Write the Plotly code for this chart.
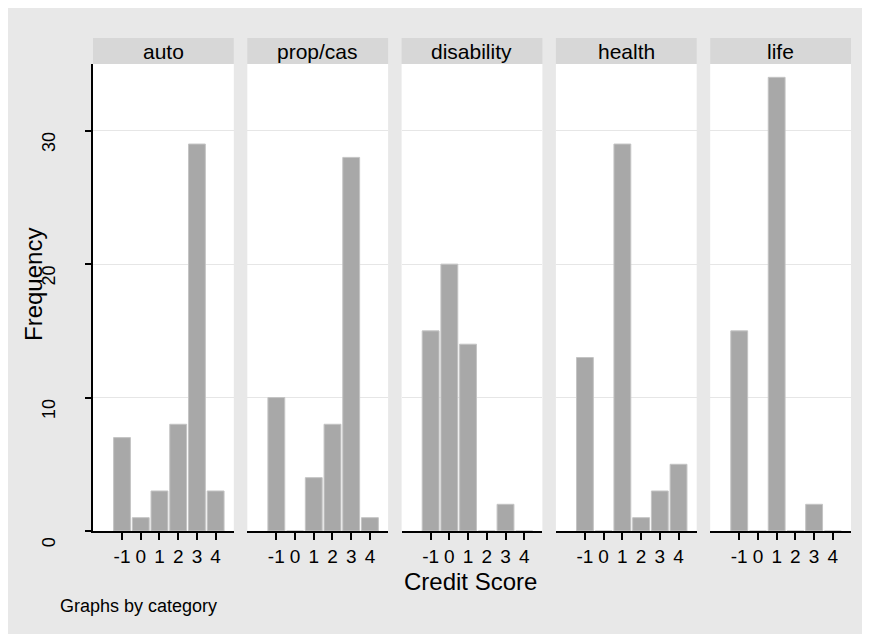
import plotly.graph_objects as go
from plotly.subplots import make_subplots

# credit score bins and frequencies per category
scores = [-1, 0, 1, 2, 3, 4]
categories = ["auto", "prop/cas", "disability", "health", "life"]
auto = [7, 1, 3, 8, 29, 3]
prop_cas = [10, 0, 4, 8, 28, 1]
disability = [15, 20, 14, 0, 2, 0]
health = [13, 0, 29, 1, 3, 5]
life = [15, 0, 34, 0, 2, 0]
y_ticks = [0, 10, 20, 30]

counts = [auto, prop_cas, disability, health, life]

FONT = "Liberation Sans, Arial, Helvetica, sans-serif"
PAPER = "#E8E8E8"
STRIP = "#D7D7D7"

# page has an 8px body margin; plot area in figure pixels: x 85..843, y 56..523
W, H = 870, 634
L, R, T, B = 85, 27, 56, 111
pw, ph = W - L - R, H - T - B


def px_x(x):
    return (x - L) / pw


def px_y(y):
    return (H - B - y) / ph


fig = make_subplots(rows=1, cols=5, shared_yaxes=True, horizontal_spacing=13.5 / pw)

for i, (cat, vals) in enumerate(zip(categories, counts)):
    fig.add_trace(
        go.Bar(
            x=scores, y=vals, width=0.9,
            marker=dict(color="#A8A8A8", line=dict(color="#C4C4C4", width=1)),
            showlegend=False,
        ),
        row=1, col=i + 1,
    )
    xref = "x domain" if i == 0 else "x%d domain" % (i + 1)
    # strip header
    fig.add_shape(type="rect", xref=xref, yref="paper", x0=0, x1=1,
                  y0=1.0, y1=px_y(30), fillcolor=STRIP, line=dict(width=0),
                  layer="below")
    fig.add_annotation(text=cat, xref=xref, yref="paper", x=0.5, y=px_y(43),
                       showarrow=False, xanchor="center", yanchor="middle",
                       font=dict(size=21, color="black", family=FONT))

fig.update_xaxes(
    range=[-2.55, 4.97], tickvals=scores, ticktext=[str(s) for s in scores],
    showline=True, linecolor="black", linewidth=2,
    ticks="outside", ticklen=7, tickwidth=1.5, tickcolor="black",
    showgrid=False, zeroline=False,
    tickfont=dict(size=19, color="black", family=FONT),
)
fig.update_yaxes(
    range=[0, 35], tickvals=y_ticks, showgrid=True, gridcolor="#E6E6E6",
    gridwidth=1, zeroline=False,
)
fig.update_yaxes(
    showline=True, linecolor="black", linewidth=2,
    ticks="outside", ticklen=6, tickwidth=2, tickcolor="black",
    tickangle=-90, ticklabelshift=14, ticklabelstandoff=23,
    tickfont=dict(size=18, color="black", family=FONT),
    row=1, col=1,
)

fig.add_annotation(text="Frequency", xref="paper", yref="paper", x=px_x(25), y=px_y(276),
                   textangle=-90, showarrow=False, xanchor="center", yanchor="middle",
                   font=dict(size=24, color="black", family=FONT))
fig.add_annotation(text="Credit Score", xref="paper", yref="paper", x=px_x(462), y=px_y(573),
                   showarrow=False, xanchor="center", yanchor="middle",
                   font=dict(size=24, color="black", family=FONT))
fig.add_annotation(text="Graphs by category", xref="paper", yref="paper", x=px_x(50),
                   y=px_y(598), showarrow=False, xanchor="left", yanchor="middle",
                   font=dict(size=18, color="black", family=FONT))

fig.update_layout(
    width=W, height=H,
    margin=dict(l=L, r=R, t=T, b=B),
    paper_bgcolor=PAPER, plot_bgcolor="white",
    bargap=0.1,
    font=dict(family=FONT, color="black"),
)

fig.write_html("out.html")
